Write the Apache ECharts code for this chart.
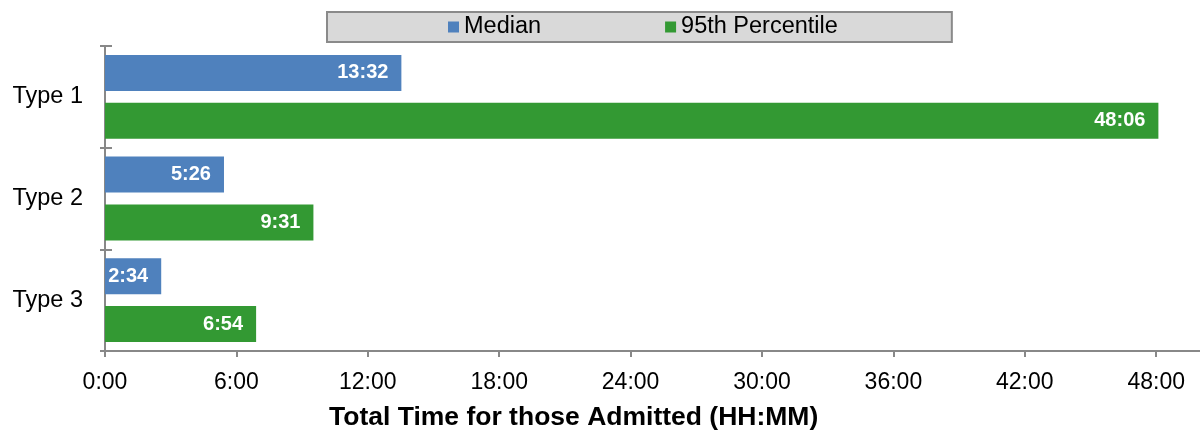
<!DOCTYPE html>
<html>
<head>
<meta charset="utf-8">
<script src="https://cdn.jsdelivr.net/npm/echarts@6/dist/echarts.min.js"></script>
<style>
  html, body { margin: 0; padding: 0; background: #fff; }
  #chart { width: 1200px; height: 430px; }
</style>
</head>
<body>
<div id="chart"></div>
<script>
// values are in minutes
var categories = ['Type 1', 'Type 2', 'Type 3'];
var medianMinutes = [812, 326, 154];        // 13:32, 5:26, 2:34
var p95Minutes = [2886, 571, 414];          // 48:06, 9:31, 6:54
var tickMinutes = [0, 360, 720, 1080, 1440, 1800, 2160, 2520, 2880];
var axisMaxMinutes = 3000;

var FONT = "'Liberation Sans', Arial, sans-serif";

function hhmm(m) {
    var h = Math.floor(m / 60);
    var mm = Math.round(m - h * 60);
    return h + ':' + (mm < 10 ? '0' + mm : mm);
}

var chart = echarts.init(document.getElementById('chart'));

var barLabel = {
    show: true,
    position: 'insideRight',
    distance: 13,
    color: '#fff',
    fontFamily: FONT,
    fontWeight: 'bold',
    fontSize: 20,
    formatter: function (p) { return hhmm(p.value); }
};

var option = {
    animation: false,
    title: {
        text: 'Total Time for those Admitted (HH:MM)',
        left: 329,
        top: 404,
        padding: 0,
        textStyle: { fontFamily: FONT, fontWeight: 'bold', fontSize: 26.5, color: '#000' }
    },
    legend: {
        left: 327,
        top: 12,
        padding: [3, 114, 3, 121],
        itemGap: 124,
        itemWidth: 11,
        itemHeight: 11,
        backgroundColor: '#d9d9d9',
        borderColor: '#8a8a8a',
        borderWidth: 2,
        icon: 'rect',
        textStyle: { fontFamily: FONT, fontSize: 23.5, color: '#000', lineHeight: 23 },
        data: ['Median', '95th Percentile']
    },
    grid: { left: 105, right: 0, top: 46, bottom: 79, containLabel: false },
    xAxis: {
        type: 'value',
        min: 0,
        max: axisMaxMinutes,
        axisLine: { show: true, lineStyle: { color: '#888', width: 2 } },
        axisTick: { show: true, length: 6, customValues: tickMinutes, lineStyle: { color: '#888', width: 2 } },
        axisLabel: {
            customValues: tickMinutes,
            margin: 20,
            fontFamily: FONT,
            fontSize: 23,
            color: '#000',
            formatter: function (v) { return hhmm(v); }
        },
        splitLine: { show: false }
    },
    yAxis: [{
        type: 'category',
        position: 'left',
        inverse: true,
        data: categories,
        axisLine: { show: true, lineStyle: { color: '#888', width: 2 } },
        axisTick: { show: true, length: 5, lineStyle: { color: '#888', width: 2 } },
        axisLabel: { margin: 22, fontFamily: FONT, fontSize: 23.5, color: '#000' }
    }, {
        type: 'category',
        position: 'left',
        inverse: true,
        data: categories,
        axisLine: { show: false },
        axisTick: { show: true, inside: true, length: 7, lineStyle: { color: '#888', width: 2 } },
        axisLabel: { show: false }
    }],
    series: [{
        name: 'Median',
        type: 'bar',
        yAxisIndex: 0,
        barWidth: 36,
        barGap: '33%',
        itemStyle: { color: '#4f81bd' },
        label: barLabel,
        data: medianMinutes
    }, {
        name: '95th Percentile',
        type: 'bar',
        yAxisIndex: 0,
        barWidth: 36,
        barGap: '33%',
        itemStyle: { color: '#339933' },
        label: barLabel,
        data: p95Minutes
    }]
};

chart.setOption(option);
</script>
</body>
</html>
